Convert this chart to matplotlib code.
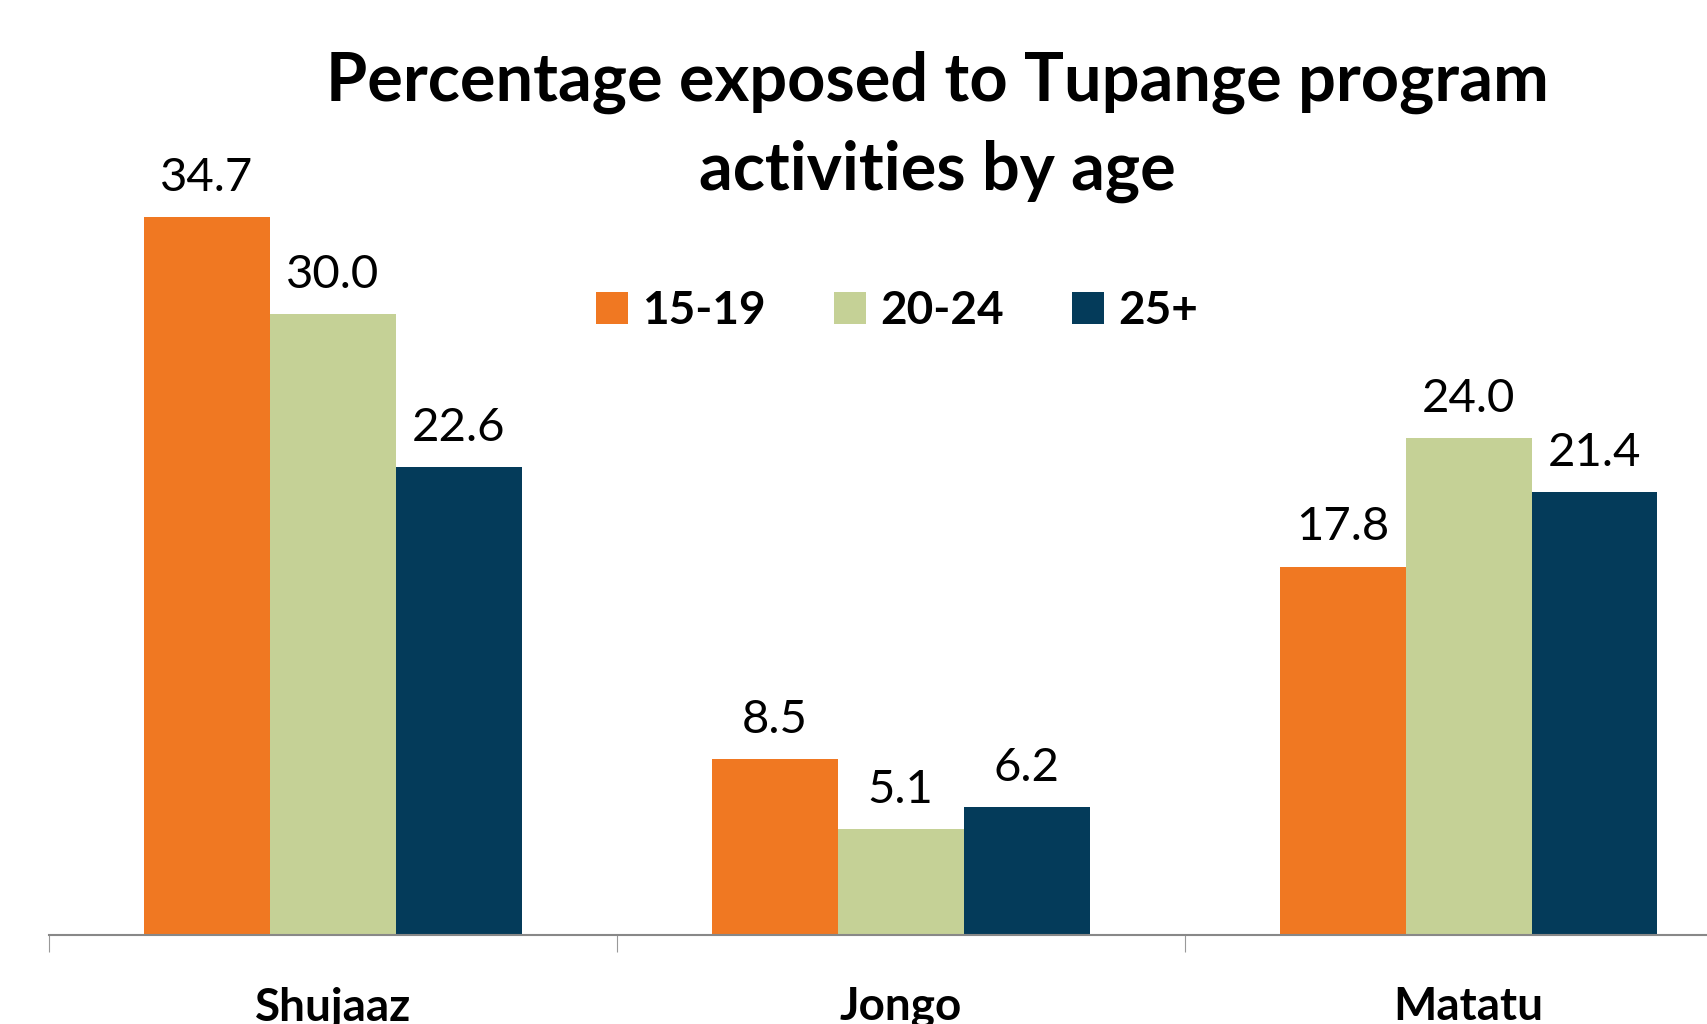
import matplotlib
matplotlib.use("Agg")
import matplotlib.pyplot as plt
from matplotlib.patches import Patch
import numpy as np

plt.rcParams["font.family"] = ["Lato", "DejaVu Sans"]

categories = ["Shujaaz", "Jongo", "Matatu"]
age_groups = ["15-19", "20-24", "25+"]
values_15_19 = [34.7, 8.5, 17.8]
values_20_24 = [30.0, 5.1, 24.0]
values_25_plus = [22.6, 6.2, 21.4]
colors = ["#F07822", "#C5D196", "#043B5A"]

fig = plt.figure(figsize=(17.07, 10.24), dpi=100)
# axes run past the right edge, as in the original slide crop
ax = fig.add_axes([0.0287, 0.0869, 0.998, 0.8086])

x = np.arange(len(categories))
w = 0.2216
series = [values_15_19, values_20_24, values_25_plus]
for i, vals in enumerate(series):
    bars = ax.bar(x + (i - 1) * w, vals, width=w, color=colors[i], label=age_groups[i])
    ax.bar_label(bars, labels=[f"{v:.1f}" for v in vals], padding=13, fontsize=34)

ax.set_xlim(-0.5, 2.5)
ax.set_ylim(0, 40)
ax.set_yticks([])
for s in ["left", "right", "top"]:
    ax.spines[s].set_visible(False)
ax.spines["bottom"].set_color("#888888")
ax.spines["bottom"].set_linewidth(1.5)

ax.set_xticks([-0.5, 0.5, 1.5, 2.5])
ax.set_xticklabels([])
ax.tick_params(axis="x", which="major", length=12, width=0.8, color="#999999", direction="out")
ax.set_xticks(x, minor=True)
ax.set_xticklabels(categories, minor=True, fontsize=33, fontweight="bold")
ax.tick_params(axis="x", which="minor", length=0, pad=37)

fig.text(0.549, 0.876, "Percentage exposed to Tupange program\nactivities by age",
         ha="center", va="center", fontsize=48, fontweight="bold", linespacing=1.5)

handles = [Patch(facecolor=c) for c in colors]
fig.legend(handles, age_groups, loc="center", bbox_to_anchor=(0.5255, 0.696), ncol=3,
           frameon=False, prop={"size": 33, "weight": "bold"},
           handlelength=0.7, handleheight=0.7, columnspacing=1.5, handletextpad=0.3)

fig.savefig("out.png", dpi=100)
